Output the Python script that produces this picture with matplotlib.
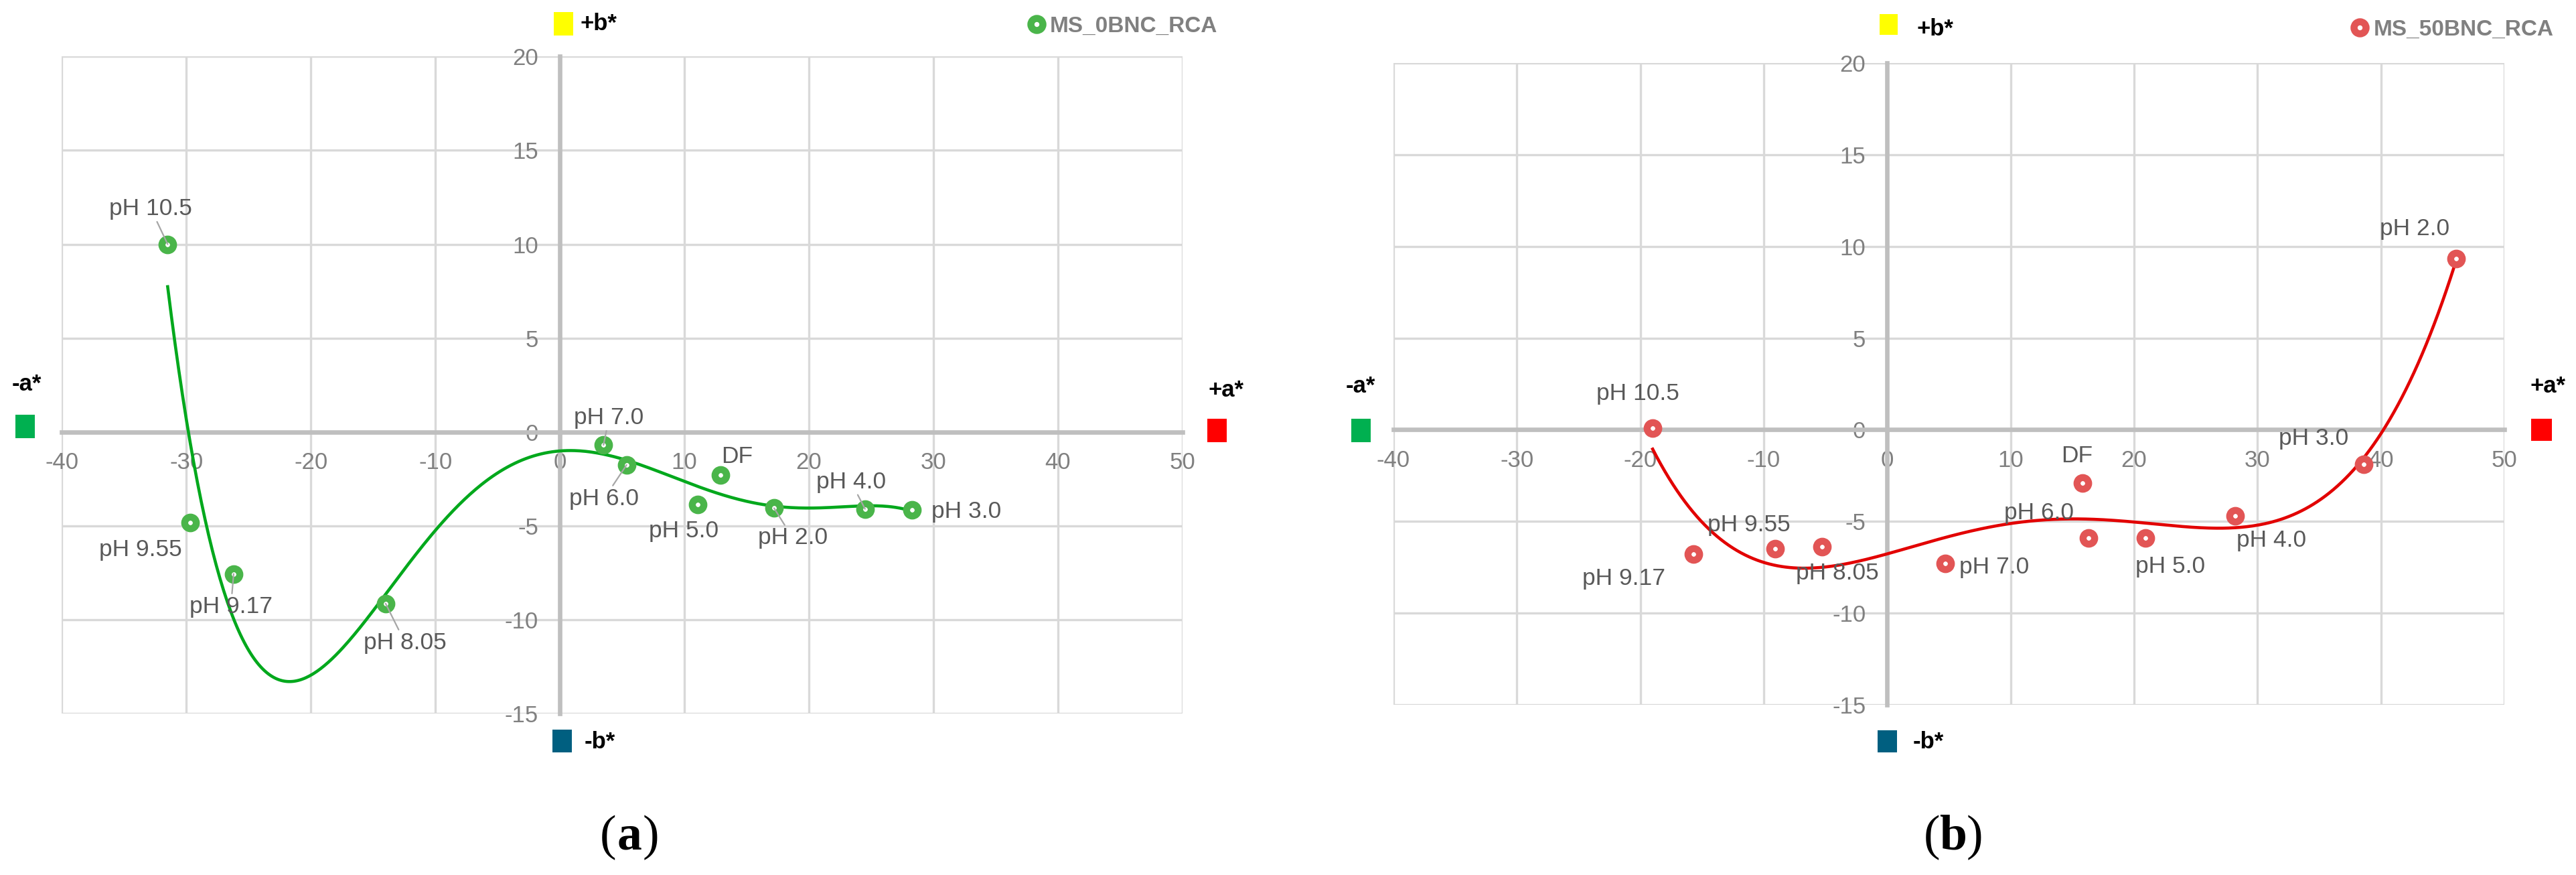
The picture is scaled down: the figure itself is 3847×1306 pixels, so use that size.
import numpy as np
import matplotlib
matplotlib.use("Agg")
import matplotlib.pyplot as plt
from matplotlib.lines import Line2D
from matplotlib.patches import Rectangle

plt.rcParams['font.family'] = ['Liberation Sans', 'DejaVu Sans']
plt.rcParams['axes.unicode_minus'] = False

W, H = 3848, 1306

# MS_0BNC_RCA  (a* , b*)
labels_0 = ["pH 10.5", "pH 9.55", "pH 9.17", "pH 8.05", "pH 7.0", "pH 6.0",
            "pH 5.0", "DF", "pH 2.0", "pH 4.0", "pH 3.0"]
a_0 = [-31.5, -29.7, -26.2, -14.0, 3.5, 5.35, 11.05, 12.9, 17.2, 24.5, 28.3]
b_0 = [10.0, -4.83, -7.56, -9.14, -0.69, -1.76, -3.85, -2.3, -4.06, -4.1, -4.14]

# MS_50BNC_RCA
labels_50 = ["pH 10.5", "pH 9.17", "pH 9.55", "pH 8.05", "pH 7.0", "DF",
             "pH 6.0", "pH 5.0", "pH 4.0", "pH 3.0", "pH 2.0"]
a_50 = [-19.0, -15.7, -9.1, -5.3, 4.7, 15.8, 16.3, 20.9, 28.2, 38.6, 46.1]
b_50 = [0.1, -6.8, -6.5, -6.4, -7.3, -2.9, -5.9, -5.9, -4.7, -1.9, 9.35]

x_ticks = [-40, -30, -20, -10, 0, 10, 20, 30, 40, 50]
y_ticks = [-15, -10, -5, 0, 5, 10, 15, 20]

# label offsets in points, and whether a leader line is drawn
offs_0 = [(-18, 38), (-53, -29), (-3, -35), (21, -42), (6, 29), (-24, -36),
          (-15, -29), (18, 20), (20, -32), (-15, 29), (58, -2)]
lead_0 = [1, 0, 1, 1, 1, 1, 0, 0, 1, 1, 0]
offs_50 = [(-16, 37), (-75, -26), (-28, 26), (17, -28), (53, -4), (-6, 29),
           (-53, 27), (27, -31), (39, -26), (-54, 28), (-45, 32)]
lead_50 = [0] * 11


def px_rect(fig, x0, y0, x1, y1, color):
    fig.add_artist(Rectangle((x0 / W, 1 - y1 / H), (x1 - x0) / W, (y1 - y0) / H,
                             transform=fig.transFigure, color=color, lw=0))


def px_text(fig, x, y, s, **kw):
    fig.text(x / W, 1 - y / H, s, **kw)


def draw_panel(fig, rect, a, b, labels, offs, lead, line_col, mark_col, deg, name, leg_xy):
    ax = fig.add_axes(rect)
    ax.set_xlim(-40, 50)
    ax.set_ylim(-15, 20)
    ax.set_xticks(x_ticks)
    ax.set_yticks(y_ticks)
    ax.grid(True, color='#D9D9D9', lw=2.4)
    ax.set_axisbelow(True)
    for gl in ax.get_xgridlines() + ax.get_ygridlines():
        gl.set_clip_on(False)
    for s in ['top', 'right']:
        ax.spines[s].set_visible(False)
    for s in ['left', 'bottom']:
        ax.spines[s].set_position(('data', 0))
        ax.spines[s].set_color('#BFBFBF')
        ax.spines[s].set_linewidth(4.8)
    ax.tick_params(length=0, labelsize=25, labelcolor='#808080')
    ax.tick_params(axis='x', pad=21)
    ax.tick_params(axis='y', pad=23)

    # polynomial trendline over the data range
    coef = np.polyfit(a, b, deg)
    xs = np.linspace(min(a), max(a), 400)
    ax.plot(xs, np.polyval(coef, xs), color=line_col, lw=3.3, zorder=3)

    ax.plot(a, b, ls='none', marker='o', ms=12.5, mew=7.5, mfc='white',
            mec=mark_col, zorder=4, clip_on=False)

    for i in range(len(a)):
        props = None
        if lead[i]:
            props = dict(arrowstyle='-', color='#A6A6A6', lw=1.6, shrinkA=0, shrinkB=0)
        ax.annotate(labels[i], (a[i], b[i]), xytext=offs[i], textcoords='offset points',
                    ha='center', va='center', fontsize=25.5, color='#595959',
                    arrowprops=props, zorder=5)

    h = Line2D([], [], ls='none', marker='o', ms=13, mew=7.5, mfc='white', mec=mark_col)
    ax.legend([h], [name], loc='center left', bbox_to_anchor=leg_xy, frameon=False,
              borderaxespad=0, borderpad=0, handlelength=0.6, handletextpad=0.32,
              prop=dict(size=24, weight='bold'), labelcolor='#808080')
    return ax


fig = plt.figure(figsize=(W / 100, H / 100), dpi=100)

draw_panel(fig, [0.023987, 0.18453, 0.43496, 0.75092], a_0, b_0, labels_0, offs_0, lead_0,
           '#00A81C', '#4AB54A', 5, 'MS_0BNC_RCA', (0.8635, 1.0457))
draw_panel(fig, [0.54080, 0.19472, 0.43113, 0.73315], a_50, b_50, labels_50, offs_50, lead_50,
           '#E20000', '#E25555', 4, 'MS_50BNC_RCA', (0.8638, 1.0524))

bold = dict(fontsize=25, fontweight='bold', color='black', va='baseline', ha='left')

# colour keys, panel (a)
px_rect(fig, 826.7, 17.7, 856, 52.7, '#FFFF00')
px_text(fig, 867, 45, '+b*', **bold)
px_rect(fig, 825, 1089, 854, 1122.7, '#005F80')
px_text(fig, 872.7, 1116.7, '-b*', **bold)
px_text(fig, 18, 583.3, '-a*', **bold)
px_rect(fig, 22.7, 619, 52, 654, '#00B050')
px_text(fig, 1805, 591.7, '+a*', **bold)
px_rect(fig, 1802.7, 625, 1832, 660, '#FF0000')

# colour keys, panel (b)
px_rect(fig, 2807, 21, 2834, 52, '#FFFF00')
px_text(fig, 2862.6, 53, '+b*', **bold)
px_rect(fig, 2804, 1090, 2833, 1123, '#005F80')
px_text(fig, 2856.5, 1117, '-b*', **bold)
px_text(fig, 2010, 586, '-a*', **bold)
px_rect(fig, 2018.5, 625, 2046.7, 660, '#00B050')
px_text(fig, 3779, 586, '+a*', **bold)
px_rect(fig, 3780, 625, 3811, 658, '#FF0000')

# panel captions
serif = ['Liberation Serif', 'DejaVu Serif']
for cx, letter in [(940, 'a'), (2917, 'b')]:
    px_text(fig, cx - 20, 1268, '(', ha='right', va='baseline', fontsize=53, family=serif)
    px_text(fig, cx, 1268, letter, ha='center', va='baseline', fontsize=53,
            fontweight='bold', family=serif)
    px_text(fig, cx + 20, 1268, ')', ha='left', va='baseline', fontsize=53, family=serif)

fig.savefig('out.png', dpi=100)
